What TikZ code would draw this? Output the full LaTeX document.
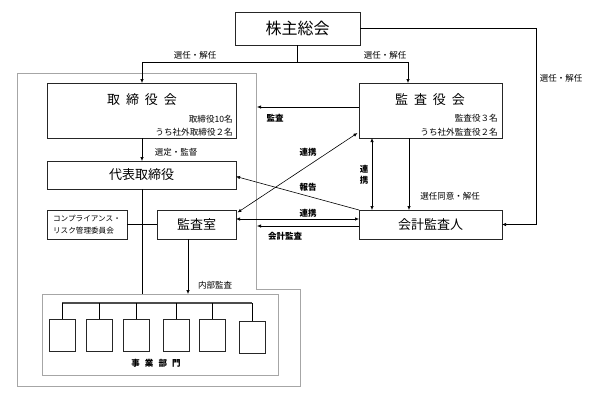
\documentclass[tikz,border=0pt]{standalone}
\usepackage{fontspec}
\setmainfont{Noto Sans CJK JP}
\usetikzlibrary{arrows.meta,calc}
\newcommand\jgap{\hspace{0.45em}}
\begin{document}
\begin{tikzpicture}[x=1pt,y=-1pt,
 box/.style={draw=black!85, line width=0.8pt, anchor=north west, inner sep=0pt, outer sep=0pt},
 gbox/.style={draw=black!35, line width=0.8pt, anchor=north west, inner sep=0pt, outer sep=0pt},
 arr/.style={-{Latex[length=4pt,width=3.4pt]}, line width=0.6pt},
 darr/.style={{Latex[length=4pt,width=3.4pt]}-{Latex[length=4pt,width=3.4pt]}, line width=0.6pt},
 ln/.style={line width=0.6pt},
 lbl/.style={font=\fontsize{8.5}{10}\selectfont, inner sep=0pt},
 blbl/.style={font=\fontsize{8.5}{10}\selectfont\bfseries, inner sep=0pt},
 small/.style={font=\fontsize{8.6}{10}\selectfont, inner sep=0pt, anchor=east},
 big/.style={font=\fontsize{13}{15}\selectfont},
 bar/.style={line width=1.6pt, draw=black!70}
]
\useasboundingbox (0,0) rectangle (597,408);
% outer gray region
\draw[black!35, line width=0.8pt] (17,73) -- (256,73) -- (256,289) -- (300,289) -- (300,386) -- (17,386) -- cycle;

% boxes
\node[box, minimum width=125, minimum height=33, font=\fontsize{16}{18}\selectfont] (kabu) at (235,12) {株主総会};
\node[box, minimum width=189, minimum height=55] (tori) at (47,83) {};
\node[box, minimum width=143, minimum height=55] (kansa) at (359,83) {};
\node[box, minimum width=189, minimum height=28, big] (daihyo) at (47,161) {代表取締役};
\node[box, minimum width=80, minimum height=29] (comp) at (47,210) {};
\node[box, minimum width=79, minimum height=29, big] (shitsu) at (157,210) {監査室};
\node[box, minimum width=143, minimum height=29, big] (kaikei) at (359,210) {会計監査人};
\node[gbox, minimum width=236, minimum height=81] (jigyo) at (42,294) {};

% texts inside boxes
\node[big, inner sep=0pt] (toriT) at (142,100) {取\jgap 締\jgap 役\jgap 会};
\node[small] (toriA) at (233,119) {取締役10名};
\node[small] (toriB) at (233,132) {うち社外取締役２名};
\node[big, inner sep=0pt] (kansaT) at (430,100) {監\jgap 査\jgap 役\jgap 会};
\node[small] (kansaA) at (498,118) {監査役３名};
\node[small] (kansaB) at (498,132) {うち社外監査役２名};
\node[font=\fontsize{7.6}{11.5}\selectfont, align=left, inner sep=0pt] (compT) at (87,224.5) {コンプライアンス・\\リスク管理委員会};
\node[blbl] (jigyoT) at (156,363) {事\hspace{0.6em}業\hspace{0.6em}部\hspace{0.6em}門};

% small department boxes
\foreach \i/\xx/\yy in {1/49/319, 2/86/319, 3/123/319, 4/163/319, 5/199/319, 6/239/321} {
  \node[box, minimum width=26, minimum height=32] (s\i) at (\xx,\yy) {};
}
\draw[bar] (s1.north |- 0,303) -- (s6.north |- 0,303);
\foreach \i in {1,...,6} { \draw[ln] (s\i.north |- 0,303) -- (s\i.north); }

% coordinates
\coordinate (junc) at (kabu.south |- 0,62);
\coordinate (jl) at (142,62);
\coordinate (jr) at (408,62);
\coordinate (g1) at (257,107);
\coordinate (g2) at (257,226);
\coordinate (rc1) at (536,0 |- kabu.east);
\coordinate (rc2) at (536,0 |- kaikei.east);

% connectors
\draw[ln] (kabu.south) -- (junc);
\draw[ln] (jl) -- (jr);
\draw[arr] (jl) -- (142,0 |- tori.north);
\draw[arr] (jr) -- (408,0 |- kansa.north);
\draw[arr] (kabu.east) -- (rc1) -- (rc2) -- (kaikei.east);
\draw[arr] (kansa.west |- g1) -- (g1);
\draw[arr] (142,0 |- tori.south) -- (142,0 |- daihyo.north);
\draw[ln] (142,0 |- daihyo.south) -- (142,0 |- jigyo.north);
\draw[ln] (comp.east) -- (shitsu.west);
\draw[arr] (188,0 |- shitsu.south) -- (188,0 |- jigyo.north);
\draw[darr] ([xshift=1.5pt,yshift=-2.5pt]shitsu.north east) -- ([xshift=-1.5pt,yshift=5pt]kansa.south west);
\draw[arr] (kaikei.north west) -- ([yshift=-1.5pt]daihyo.east);
\draw[darr] ([yshift=5.5pt]shitsu.east) -- ([yshift=5.5pt]kaikei.west);
\draw[arr] (kaikei.west |- g2) -- (g2);
\draw[darr] (372,0 |- kansa.south) -- (372,0 |- kaikei.north);
\draw[arr] (409,0 |- kansa.south) -- (409,0 |- kaikei.north);

% labels
\node[lbl] (l1) at (195,55) {選任・解任};
\node[lbl] (l2) at (385,55) {選任・解任};
\node[lbl] (l3) at (561,78) {選任・解任};
\node[blbl] (l4) at (275,118) {監査};
\node[lbl] (l5) at (176,152) {選定・監督};
\node[blbl] (l6) at (308,152) {連携};
\node[blbl] (l7) at (308,187) {報告};
\node[blbl] (l8) at (308,213) {連携};
\node[blbl] (l9) at (285,236) {会計監査};
\node[blbl, align=center, font=\fontsize{8.5}{10.5}\selectfont\bfseries] (l10) at (364,175) {連\\携};
\node[lbl] (l11) at (450,196) {選任同意・解任};
\node[lbl] (l12) at (215,285) {内部監査};
\end{tikzpicture}
\end{document}
